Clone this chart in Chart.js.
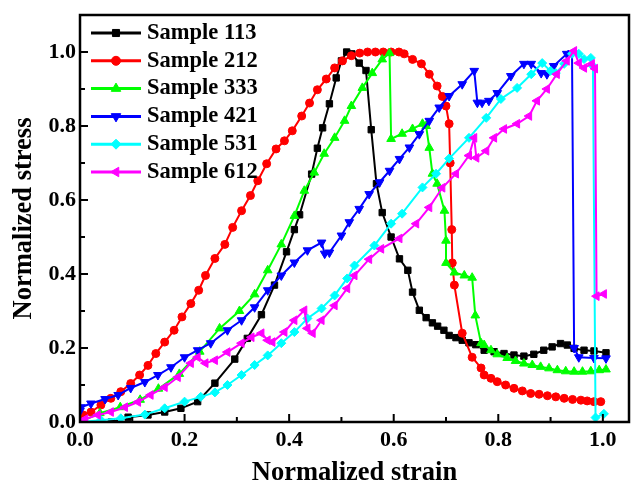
<!DOCTYPE html>
<html>
<head>
<meta charset="utf-8">
<script src="https://cdn.jsdelivr.net/npm/chart.js@4.4.0/dist/chart.umd.min.js"></script>
<style>
  html, body { margin: 0; padding: 0; background: #fff; }
</style>
</head>
<body>
<canvas id="stressChart" width="635" height="486"></canvas>
<script>
// values
const strain113 = [0.06,0.092,0.13,0.162,0.193,0.225,0.258,0.296,0.32,0.347,0.372,0.395,0.41,0.42,0.443,0.454,0.464,0.477,0.49,0.50,0.51,0.52,0.534,0.547,0.557,0.567,0.578,0.595,0.611,0.627,0.636,0.649,0.662,0.674,0.684,0.696,0.706,0.719,0.731,0.744,0.757,0.773,0.792,0.811,0.830,0.849,0.868,0.887,0.903,0.919,0.932,0.945,0.964,0.983,1.006];
const stress113 = [0,0.013,0.019,0.027,0.037,0.055,0.105,0.17,0.226,0.29,0.37,0.46,0.52,0.56,0.67,0.74,0.795,0.86,0.93,0.976,1.0,0.995,0.97,0.95,0.79,0.644,0.566,0.5,0.441,0.41,0.351,0.302,0.282,0.268,0.259,0.248,0.234,0.228,0.221,0.214,0.209,0.194,0.19,0.185,0.181,0.178,0.183,0.194,0.203,0.212,0.208,0.199,0.194,0.192,0.187];

const strain212 = [0,0.006,0.021,0.04,0.059,0.078,0.097,0.114,0.13,0.145,0.162,0.18,0.195,0.212,0.227,0.24,0.258,0.277,0.292,0.309,0.326,0.34,0.357,0.375,0.391,0.406,0.424,0.439,0.454,0.471,0.487,0.502,0.519,0.535,0.55,0.565,0.58,0.595,0.61,0.62,0.636,0.653,0.668,0.683,0.693,0.70,0.706,0.708,0.711,0.712,0.716,0.731,0.75,0.767,0.773,0.786,0.798,0.814,0.830,0.846,0.862,0.878,0.894,0.910,0.926,0.942,0.958,0.970,0.983,0.996];
const stress212 = [0.005,0.019,0.027,0.046,0.064,0.082,0.104,0.127,0.153,0.185,0.216,0.248,0.284,0.32,0.356,0.396,0.442,0.48,0.526,0.571,0.612,0.652,0.698,0.738,0.76,0.787,0.827,0.862,0.898,0.927,0.957,0.976,0.99,0.997,1.0,1.0,1.0,1.0,1.0,0.995,0.98,0.968,0.94,0.908,0.88,0.854,0.806,0.7,0.52,0.43,0.37,0.24,0.175,0.146,0.127,0.118,0.109,0.1,0.091,0.084,0.077,0.075,0.071,0.068,0.064,0.061,0.059,0.057,0.055,0.055];

const strain333 = [0,0.038,0.077,0.115,0.15,0.19,0.229,0.267,0.305,0.334,0.359,0.385,0.41,0.429,0.448,0.467,0.487,0.506,0.519,0.54,0.559,0.578,0.592,0.595,0.616,0.636,0.655,0.662,0.668,0.674,0.683,0.697,0.70,0.70,0.716,0.735,0.75,0.756,0.767,0.773,0.786,0.798,0.817,0.833,0.849,0.865,0.881,0.897,0.913,0.929,0.945,0.961,0.977,0.993,1.006];
const stress333 = [0,0.024,0.04,0.06,0.09,0.13,0.19,0.253,0.30,0.345,0.41,0.48,0.557,0.625,0.674,0.725,0.768,0.814,0.854,0.903,0.943,0.98,0.997,0.765,0.779,0.792,0.806,0.80,0.741,0.671,0.644,0.571,0.49,0.43,0.404,0.396,0.39,0.288,0.213,0.208,0.194,0.183,0.173,0.165,0.158,0.154,0.149,0.145,0.14,0.137,0.136,0.136,0.137,0.14,0.142];

const strain421 = [0,0.002,0.021,0.048,0.073,0.097,0.124,0.149,0.174,0.2,0.225,0.25,0.282,0.309,0.334,0.359,0.385,0.41,0.435,0.462,0.468,0.477,0.5,0.515,0.534,0.553,0.573,0.592,0.611,0.63,0.649,0.668,0.687,0.706,0.731,0.754,0.76,0.769,0.782,0.798,0.824,0.849,0.863,0.882,0.893,0.906,0.931,0.941,0.945,0.954,0.983,1.006];
const stress421 = [0.03,0.04,0.05,0.062,0.073,0.092,0.108,0.127,0.148,0.175,0.194,0.213,0.248,0.275,0.31,0.356,0.396,0.431,0.464,0.485,0.455,0.458,0.504,0.54,0.576,0.616,0.648,0.679,0.711,0.742,0.778,0.814,0.85,0.881,0.913,0.949,0.863,0.863,0.868,0.889,0.935,0.968,0.968,0.943,0.94,0.962,0.995,0.997,0.2,0.175,0.173,0.172];

const strain531 = [0,0.04,0.078,0.124,0.162,0.2,0.231,0.258,0.282,0.309,0.334,0.359,0.385,0.41,0.435,0.462,0.487,0.511,0.525,0.563,0.595,0.616,0.655,0.681,0.706,0.744,0.777,0.805,0.836,0.863,0.884,0.9,0.91,0.926,0.941,0.954,0.964,0.977,0.981,0.986,1.002];
const stress531 = [0,0.005,0.01,0.02,0.037,0.055,0.068,0.08,0.1,0.127,0.154,0.18,0.213,0.243,0.28,0.307,0.342,0.388,0.423,0.477,0.536,0.563,0.634,0.671,0.712,0.768,0.822,0.873,0.903,0.94,0.97,0.949,0.943,0.968,0.995,0.995,0.981,0.984,0.962,0.012,0.022];

const strain612 = [0,0.01,0.034,0.059,0.086,0.111,0.135,0.162,0.187,0.212,0.225,0.24,0.258,0.282,0.309,0.328,0.347,0.359,0.368,0.391,0.41,0.429,0.435,0.445,0.462,0.487,0.511,0.525,0.553,0.576,0.611,0.643,0.668,0.693,0.719,0.744,0.754,0.758,0.777,0.792,0.811,0.836,0.859,0.874,0.893,0.912,0.931,0.945,0.954,0.964,0.979,0.985,0.988,1.002];
const stress612 = [0,0.008,0.019,0.027,0.04,0.054,0.073,0.094,0.121,0.159,0.175,0.159,0.167,0.189,0.213,0.229,0.24,0.221,0.216,0.243,0.275,0.302,0.253,0.24,0.275,0.315,0.361,0.396,0.44,0.468,0.496,0.536,0.58,0.633,0.671,0.72,0.768,0.714,0.733,0.768,0.792,0.806,0.827,0.868,0.9,0.94,0.976,1.003,0.97,0.957,0.968,0.955,0.34,0.346];

const sampleNames = ['Sample 113', 'Sample 212', 'Sample 333', 'Sample 421', 'Sample 531', 'Sample 612'];
const xTickValues = [0, 0.2, 0.4, 0.6, 0.8, 1.0];
const yTickValues = [0, 0.2, 0.4, 0.6, 0.8, 1.0];
const xMinorValues = [0.1, 0.3, 0.5, 0.7, 0.9];
const yMinorValues = [0.1, 0.3, 0.5, 0.7, 0.9];

const colors = ['#000000', '#ff0000', '#00ff00', '#0000ff', '#00ffff', '#ff00ff'];
const markers = [
    { style: 'rect', rotation: 0, radius: 4.5 },
    { style: 'circle', rotation: 0, radius: 4 },
    { style: 'triangle', rotation: 0, radius: 5 },
    { style: 'triangle', rotation: 180, radius: 5 },
    { style: 'rectRot', rotation: 0, radius: 4.5 },
    { style: 'triangle', rotation: -90, radius: 5 }
];

const FONT = '"Liberation Serif", "Times New Roman", serif';

function pairs(xs, ys) {
    return xs.map((x, i) => ({ x: x, y: ys[i] }));
}

const seriesData = [
    pairs(strain113, stress113),
    pairs(strain212, stress212),
    pairs(strain333, stress333),
    pairs(strain421, stress421),
    pairs(strain531, stress531),
    pairs(strain612, stress612)
];

// frame, inward ticks and the legend inside the plot
const framePlugin = {
    id: 'framePlugin',
    afterDatasetsDraw(chart) {
        const { ctx, chartArea: a, scales } = chart;
        const x = scales.x, y = scales.y;
        ctx.save();
        ctx.strokeStyle = '#000';
        ctx.lineWidth = 2.5;
        ctx.strokeRect(a.left, a.top, a.right - a.left, a.bottom - a.top);

        ctx.lineWidth = 2;
        ctx.beginPath();
        xTickValues.forEach(v => { const p = x.getPixelForValue(v); ctx.moveTo(p, a.bottom); ctx.lineTo(p, a.bottom - 8); });
        xMinorValues.forEach(v => { const p = x.getPixelForValue(v); ctx.moveTo(p, a.bottom); ctx.lineTo(p, a.bottom - 5); });
        yTickValues.forEach(v => { const p = y.getPixelForValue(v); ctx.moveTo(a.left, p); ctx.lineTo(a.left + 8, p); });
        yMinorValues.forEach(v => { const p = y.getPixelForValue(v); ctx.moveTo(a.left, p); ctx.lineTo(a.left + 5, p); });
        ctx.stroke();

        // legend
        chart.data.datasets.forEach((ds, i) => {
            const ly = a.top + 18 + i * 27.8;
            const lx = a.left + 11;
            ctx.strokeStyle = ds.borderColor;
            ctx.lineWidth = 3;
            ctx.beginPath();
            ctx.moveTo(lx, ly);
            ctx.lineTo(lx + 50, ly);
            ctx.stroke();
            ctx.fillStyle = ds.backgroundColor;
            ctx.lineWidth = 1;
            if (Chart.helpers && Chart.helpers.drawPoint) {
                Chart.helpers.drawPoint(ctx, {
                    pointStyle: ds.pointStyle,
                    radius: ds.pointRadius + 0.5,
                    rotation: ds.pointRotation,
                    borderWidth: 1
                }, lx + 25, ly);
            }
            ctx.fillStyle = '#000';
            ctx.font = 'bold 22.5px ' + FONT;
            ctx.textBaseline = 'middle';
            ctx.textAlign = 'left';
            ctx.fillText(ds.label, lx + 56, ly);
        });
        ctx.restore();
    }
};

const ctx = document.getElementById('stressChart').getContext('2d');

const chart = new Chart(ctx, {
    type: 'line',
    data: {
        datasets: sampleNames.map((name, i) => ({
            label: name,
            data: seriesData[i],
            borderColor: colors[i],
            backgroundColor: colors[i],
            borderWidth: 2,
            pointStyle: markers[i].style,
            pointRotation: markers[i].rotation,
            pointRadius: markers[i].radius,
            pointBorderWidth: 1,
            pointBorderColor: colors[i],
            pointBackgroundColor: colors[i],
            tension: 0,
            fill: false,
            order: 5 - i
        }))
    },
    options: {
        responsive: false,
        animation: false,
        devicePixelRatio: 1,
        layout: { padding: { top: 15, right: 5, left: 0, bottom: 0 } },
        plugins: {
            legend: { display: false },
            tooltip: { enabled: false }
        },
        scales: {
            x: {
                type: 'linear',
                min: 0,
                max: 1.05,
                afterBuildTicks: s => { s.ticks = xTickValues.map(v => ({ value: v })); },
                afterFit: s => { s.height = 64; },
                grid: { display: false, drawTicks: false },
                border: { display: false },
                ticks: {
                    padding: 5,
                    color: '#000',
                    font: { family: FONT, size: 22, weight: 'bold' },
                    callback: v => Number(v).toFixed(1)
                },
                title: {
                    display: true,
                    text: 'Normalized strain',
                    color: '#000',
                    font: { family: FONT, size: 26.5, weight: 'bold', lineHeight: 1 },
                    padding: { top: 0, bottom: 0 }
                }
            },
            y: {
                type: 'linear',
                min: 0,
                max: 1.1,
                afterBuildTicks: s => { s.ticks = yTickValues.map(v => ({ value: v })); },
                afterFit: s => { s.width = 80; },
                grid: { display: false, drawTicks: false },
                border: { display: false },
                ticks: {
                    padding: 4,
                    color: '#000',
                    font: { family: FONT, size: 22, weight: 'bold', lineHeight: 1 },
                    callback: v => Number(v).toFixed(1)
                },
                title: {
                    display: true,
                    text: 'Normalized stress',
                    color: '#000',
                    font: { family: FONT, size: 26.5, weight: 'bold', lineHeight: 1 },
                    padding: { top: 11, bottom: 0 }
                }
            }
        }
    },
    plugins: [framePlugin]
});
</script>
</body>
</html>
